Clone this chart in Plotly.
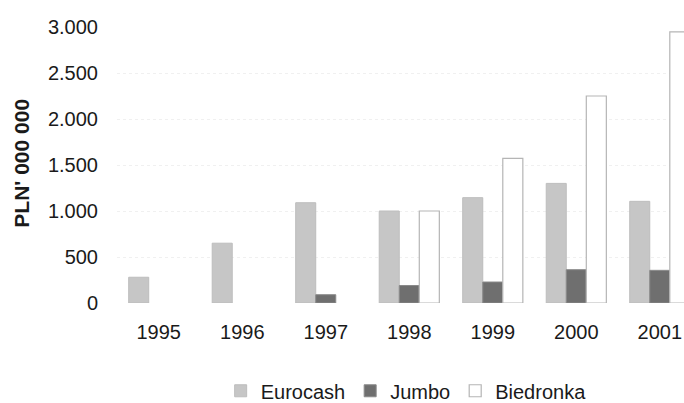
import plotly.graph_objects as go

years = ["1995", "1996", "1997", "1998", "1999", "2000", "2001"]
eurocash = [280, 650, 1090, 1000, 1145, 1300, 1105]
jumbo = [None, None, 90, 190, 228, 362, 355]
biedronka = [None, None, None, 1000, 1573, 2250, 2946]
y_ticks = [0, 500, 1000, 1500, 2000, 2500, 3000]

font_family = "Liberation Sans, Arial, sans-serif"

fig = go.Figure()
fig.add_trace(go.Bar(
    name="Eurocash", x=years, y=eurocash,
    marker=dict(color="#c6c6c6", line=dict(color="#bdbdbd", width=1)),
))
fig.add_trace(go.Bar(
    name="Jumbo", x=years, y=jumbo,
    marker=dict(color="#6f6f6f", line=dict(color="#8a8a8a", width=1)),
))
fig.add_trace(go.Bar(
    name="Biedronka", x=years, y=biedronka,
    marker=dict(color="#ffffff", line=dict(color="#b5b5b5", width=1.2)),
))

fig.update_layout(
    width=684, height=403,
    margin=dict(l=117, r=0, t=27, b=100, autoexpand=False),
    paper_bgcolor="white", plot_bgcolor="white",
    barmode="group", bargap=0.28, bargroupgap=0,
    separators=",.",
    font=dict(family=font_family, size=20, color="#1a1a1a"),
    showlegend=True,
    legend=dict(
        orientation="h", x=0.51, xanchor="center", y=-0.318, yanchor="middle",
        font=dict(size=20), itemwidth=30, tracegroupgap=0,
        borderwidth=0, bgcolor="rgba(0,0,0,0)",
    ),
    annotations=[dict(
        text="<b>PLN' 000 000</b>", textangle=-90,
        xref="paper", yref="paper", x=-0.1675, y=0.505,
        xanchor="center", yanchor="middle", showarrow=False,
        font=dict(size=21, family=font_family, color="#1a1a1a"),
    )],
)

fig.update_xaxes(
    type="category", range=[-0.5, 6.29], automargin=False,
    showline=False, showgrid=False, zeroline=False, ticks="",
    ticklabelstandoff=15,
)
fig.update_yaxes(
    range=[0, 3000], tickvals=y_ticks, tickformat=",d", automargin=False,
    showline=False, zeroline=False, ticks="",
    showgrid=True, gridcolor="#f0f0f0", griddash="dot", gridwidth=1,
    ticklabelstandoff=18,
)

fig.write_html("out.html")
